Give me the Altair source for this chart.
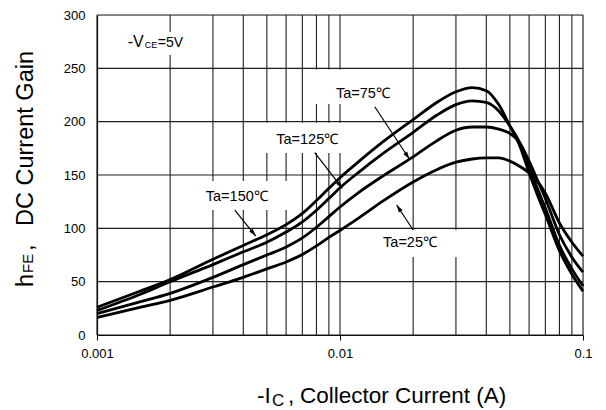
import math
import altair as alt
import pandas as pd

# ---------------- data ----------------
ic = [0.001, 0.0015, 0.002, 0.003, 0.004, 0.005, 0.006, 0.007, 0.008, 0.009,
      0.01, 0.012, 0.015, 0.02, 0.025, 0.03, 0.035, 0.04, 0.045, 0.05,
      0.055, 0.06, 0.065, 0.07, 0.08, 0.09, 0.1]

hfe_150 = [26, 41, 52, 71, 84, 94, 103.5, 114, 126, 137.5,
           147.5, 163, 181, 202, 218, 228, 232, 229, 216, 196,
           177, 152, 131, 113, 79, 57, 41]
hfe_125 = [23, 38, 50, 66, 78, 87, 96.5, 106, 117, 128,
           138, 153, 170, 190, 206, 216, 219.5, 218, 210, 196,
           180, 158, 137, 119, 84, 62, 46]
hfe_75 = [20, 31, 39, 54, 66, 75, 82.5, 91, 101, 111,
          120, 134, 149, 167, 182, 192, 195, 195, 193, 189,
          180, 163, 145, 128, 94, 73, 59]
hfe_25 = [16.5, 26, 32.5, 45, 54, 62, 68.5, 75.5, 83.5, 91.5,
          98, 110, 125.5, 143.5, 155, 162, 165, 166, 166, 163,
          158, 152, 144, 133, 105, 87, 74]

series_names = ["Ta=150℃", "Ta=125℃", "Ta=75℃", "Ta=25℃"]
series_values = [hfe_150, hfe_125, hfe_75, hfe_25]

x_grid = [0.001, 0.002, 0.003, 0.004, 0.005, 0.006, 0.007, 0.008, 0.009,
          0.01, 0.02, 0.03, 0.04, 0.05, 0.06, 0.07, 0.08, 0.09, 0.1]
y_grid = [0, 50, 100, 150, 200, 250, 300]
x_labels = [0.001, 0.01, 0.1]

# curve annotations (data coordinates)
label_text = ["Ta=75℃", "Ta=125℃", "Ta=150℃", "Ta=25℃"]
label_x = [0.01243, 0.00733, 0.00376, 0.01942]
label_y = [226, 182.8, 129, 86]

arrow_x1 = [0.0139, 0.00787, 0.00369, 0.0200]
arrow_y1 = [214, 171, 117, 98.4]
arrow_x2 = [0.0193, 0.01023, 0.0045, 0.0171]
arrow_y2 = [165, 137.5, 92.8, 121.9]

# white boxes behind annotation text (data coordinates)
box_x1 = [0.001288, 0.00772, 0.0049, 0.002453, 0.0135]
box_x2 = [0.002407, 0.01761, 0.01045, 0.00651, 0.0311]
box_y1 = [262.5, 216.6, 170.6, 117.2, 73.1]
box_y2 = [284, 249, 199, 144.4, 98.4]

# -VCE=5V pieces
vce_text = ["-V", "CE", "=5V"]
vce_x = [0.001338, 0.001571, 0.001778]
vce_y = [270, 269, 270]
vce_size = [16, 9, 14]

# axis titles (pixel positions relative to the plot area)
ytitle_text = ["h", "FE", ",", "DC Current Gain"]
ytitle_px = [-64, -64, -64, -64]
ytitle_py = [272, 258, 236, 211]
ytitle_size = [23.5, 15, 23.5, 23.5]

xtitle_text = ["-I", "C", ",", "Collector Current (A)"]
xtitle_px = [160, 175, 191, 203]
xtitle_py = [388, 391, 388, 388]
xtitle_size = [22.5, 17, 22.5, 22.5]

# ---------------- chart ----------------
W, H = 486, 320
FONT = "Liberation Sans, Arial, sans-serif"

rows = []
for name, vals in zip(series_names, series_values):
    for xv, yv in zip(ic, vals):
        rows.append({"ic": xv, "hfe": yv, "ta": name})
curves_df = pd.DataFrame(rows)


def to_px(xv, yv):
    return (math.log10(xv) + 3) * W / 2, (300 - yv) * H / 300


angles = []
for a, b, c, d in zip(arrow_x1, arrow_y1, arrow_x2, arrow_y2):
    p1 = to_px(a, b)
    p2 = to_px(c, d)
    dx, dy = p2[0] - p1[0], p2[1] - p1[1]
    angles.append(math.degrees(math.atan2(dx, -dy)) % 360)

arrows_df = pd.DataFrame({"x1": arrow_x1, "y1": arrow_y1, "x2": arrow_x2,
                          "y2": arrow_y2, "angle": angles})

xscale = alt.Scale(type="log", domain=[0.001, 0.1], nice=False)
yscale = alt.Scale(domain=[0, 300], nice=False, zero=False)

xaxis = alt.Axis(values=x_labels, format=".3~f", title=None, grid=False,
                 tickSize=5, tickColor="black", tickWidth=1,
                 labelFlush=False, labelOverlap=False, labelPadding=7,
                 labelFontSize=13, labelColor="black", labelFont=FONT,
                 domainColor="black", domainWidth=1.2)
yaxis = alt.Axis(values=y_grid, title=None, grid=False, ticks=False,
                 tickSize=0, labelPadding=12, labelFontSize=13,
                 labelColor="black", labelFont=FONT,
                 domainColor="black", domainWidth=1.2)


def X(field):
    return alt.X(field, scale=xscale, axis=xaxis)


def Y(field):
    return alt.Y(field, scale=yscale, axis=yaxis)


GRID = "#1e1e1e"

vgrid = alt.Chart(pd.DataFrame({"v": x_grid})).mark_rule(
    color=GRID, strokeWidth=1.1).encode(x=X("v:Q"))

hgrid = alt.Chart(pd.DataFrame({"v": y_grid})).mark_rule(
    color=GRID, strokeWidth=1.1).encode(y=Y("v:Q"))

boxes = alt.Chart(pd.DataFrame({"x1": box_x1, "x2": box_x2,
                                "y1": box_y1, "y2": box_y2})).mark_rect(
    color="white", opacity=1).encode(
    x=X("x1:Q"), x2="x2:Q", y=Y("y1:Q"), y2="y2:Q")

curves = alt.Chart(curves_df).mark_line(
    interpolate="monotone", color="black", strokeWidth=2.8).encode(
    x=X("ic:Q"), y=Y("hfe:Q"), detail="ta:N")

shafts = alt.Chart(arrows_df).mark_rule(color="black", strokeWidth=1.2).encode(
    x=X("x1:Q"), x2="x2:Q", y=Y("y1:Q"), y2="y2:Q")

heads = alt.Chart(arrows_df).mark_point(
    shape="M0,0L-0.9,3L0.9,3Z", filled=True, size=25, color="black",
    opacity=1, strokeWidth=0).encode(
    x=X("x2:Q"), y=Y("y2:Q"), angle=alt.Angle("angle:Q", scale=None))

labels = alt.Chart(pd.DataFrame({"t": label_text, "x": label_x,
                                 "y": label_y})).mark_text(
    font=FONT, fontSize=14.5, color="black", align="center",
    baseline="middle").encode(x=X("x:Q"), y=Y("y:Q"), text="t:N")

vce = alt.Chart(pd.DataFrame({"t": vce_text, "x": vce_x, "y": vce_y,
                              "s": vce_size})).mark_text(
    font=FONT, color="black", align="left", baseline="alphabetic").encode(
    x=X("x:Q"), y=Y("y:Q"),
    size=alt.Size("s:Q", scale=None, legend=None), text="t:N")

title_layers = []
for t, px, py, s in zip(ytitle_text, ytitle_px, ytitle_py, ytitle_size):
    title_layers.append(
        alt.Chart(pd.DataFrame({"t": [t]})).mark_text(
            font=FONT, fontSize=s, color="black", align="left",
            baseline="alphabetic", angle=270).encode(
            text="t:N", x=alt.value(px), y=alt.value(py)))
for t, px, py, s in zip(xtitle_text, xtitle_px, xtitle_py, xtitle_size):
    title_layers.append(
        alt.Chart(pd.DataFrame({"t": [t]})).mark_text(
            font=FONT, fontSize=s, color="black", align="left",
            baseline="alphabetic").encode(
            text="t:N", x=alt.value(px), y=alt.value(py)))

chart = alt.layer(
    vgrid, hgrid, boxes, curves, shafts, heads, labels, vce, *title_layers
).properties(
    width=W, height=H,
    autosize=alt.AutoSizeParams(type="none"),
    padding={"left": 89, "top": 7, "right": 15, "bottom": 82},
).configure_view(stroke=None).configure(background="white")

chart.save("out.html", embed_options={"renderer": "svg", "actions": False})
